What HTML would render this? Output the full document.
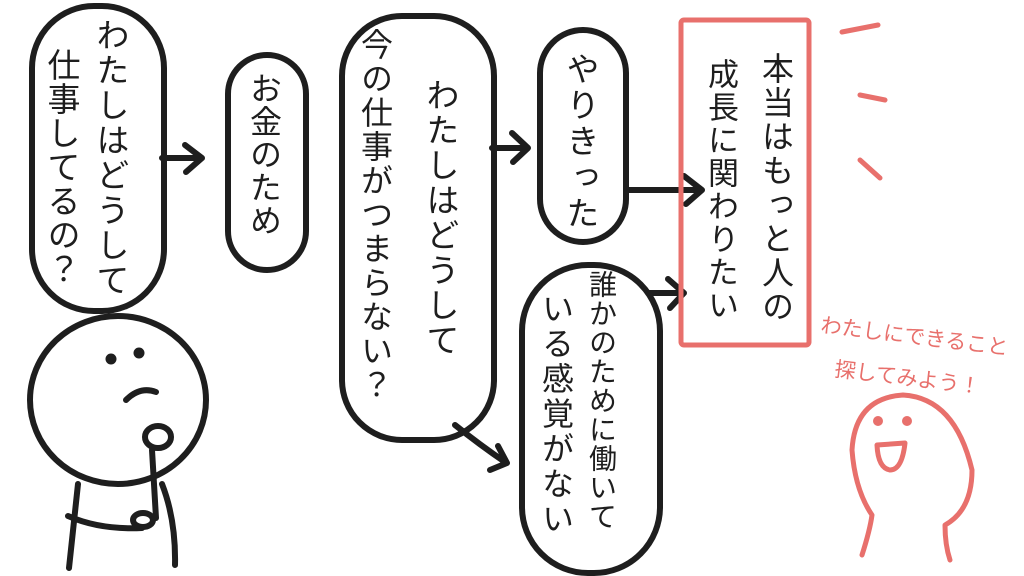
<!DOCTYPE html>
<html><head><meta charset="utf-8"><style>
body{margin:0;width:1024px;height:576px;background:#fff;overflow:hidden;position:relative;font-family:"Liberation Sans","Noto Sans CJK JP",sans-serif}
.v{position:absolute;writing-mode:vertical-rl;color:#1e1e1e;white-space:nowrap;line-height:1}
svg{position:absolute;left:0;top:0}
</style></head><body>
<svg width="1024" height="576" fill="none" stroke-linecap="round" stroke-linejoin="round">
<g stroke="#1e1e1e" stroke-width="6">
<rect x="32" y="6" width="132" height="305" rx="62"/>
<rect x="228" y="55" width="78" height="215" rx="39"/>
<rect x="342" y="16" width="152" height="424" rx="60"/>
<rect x="540" y="30" width="86" height="212" rx="43"/>
<rect x="522" y="265" width="138" height="308" rx="66"/>
<path d="M162 158 L200 158 M185 145 L202 158 L186 172"/>
<path d="M492 148 L526 148 M512 133 L528 148 L513 162"/>
<path d="M628 190 L700 190 M684 176 L702 190 L686 204"/>
<path d="M648 293 L682 293 M668 279 L684 293 L670 308"/>
<path d="M455 425 Q480 445 505 462 M490 470 L507 463 L498 446"/>
<ellipse cx="118" cy="400" rx="88" ry="84"/>
<circle cx="111" cy="359" r="2.5" fill="#1e1e1e"/>
<circle cx="139" cy="353" r="2.5" fill="#1e1e1e"/>
<path d="M126 400 Q140 386 156 392"/>
<ellipse cx="158" cy="437" rx="13" ry="11" fill="#fff"/>
<path d="M152 450 L156 518"/>
<path d="M78 484 L69 568 M68 516 Q100 530 142 528 M162 484 Q176 520 175 565"/>
<ellipse cx="143" cy="520" rx="10" ry="7" fill="#fff"/>
</g>
<g stroke="#e8706c" stroke-width="5">
<rect x="681" y="20" width="128" height="325" rx="3"/>
<path d="M842 32 L878 25 M860 95 L885 100 M860 160 L880 178"/>
<path d="M862 555 Q870 530 872 515 Q855 490 852 450 Q855 398 903 395 Q955 398 972 470 Q972 510 945 525 Q945 545 950 560"/>
<circle cx="878" cy="421" r="2.5" fill="#e8706c"/>
<circle cx="907" cy="421" r="2.5" fill="#e8706c"/>
<path d="M877 445 L905 443 Q902 470 890 470 Q878 468 877 445Z"/>
</g>
<g fill="#e8706c" font-family="Liberation Sans, Noto Sans CJK JP, sans-serif" font-size="21">
<text x="820" y="332" transform="rotate(7 820 332)">わたしにできること</text>
<text x="834" y="376" transform="rotate(7 834 376)">探してみよう！</text>
</g>
</svg>
<div class="v" style="left:94px;top:18px;font-size:33px;letter-spacing:2px">わたしはどうして</div>
<div class="v" style="left:45px;top:48px;font-size:33px;letter-spacing:1px">仕事してるの？</div>
<div class="v" style="left:248px;top:72px;font-size:32px;letter-spacing:1px">お金のため</div>
<div class="v" style="left:424px;top:78px;font-size:33px;letter-spacing:2px">わたしはどうして</div>
<div class="v" style="left:359px;top:28px;font-size:32px;letter-spacing:2px">今の仕事がつまらない？</div>
<div class="v" style="left:564px;top:52px;font-size:33px;letter-spacing:3px">やりきった</div>
<div class="v" style="left:587px;top:270px;font-size:28px;letter-spacing:1px">誰かのために働いて</div>
<div class="v" style="left:540px;top:292px;font-size:32px;letter-spacing:3px">いる感覚がない</div>
<div class="v" style="left:760px;top:52px;font-size:32px;letter-spacing:2px">本当はもっと人の</div>
<div class="v" style="left:705px;top:58px;font-size:31px;letter-spacing:2px">成長に関わりたい</div>
</body></html>
